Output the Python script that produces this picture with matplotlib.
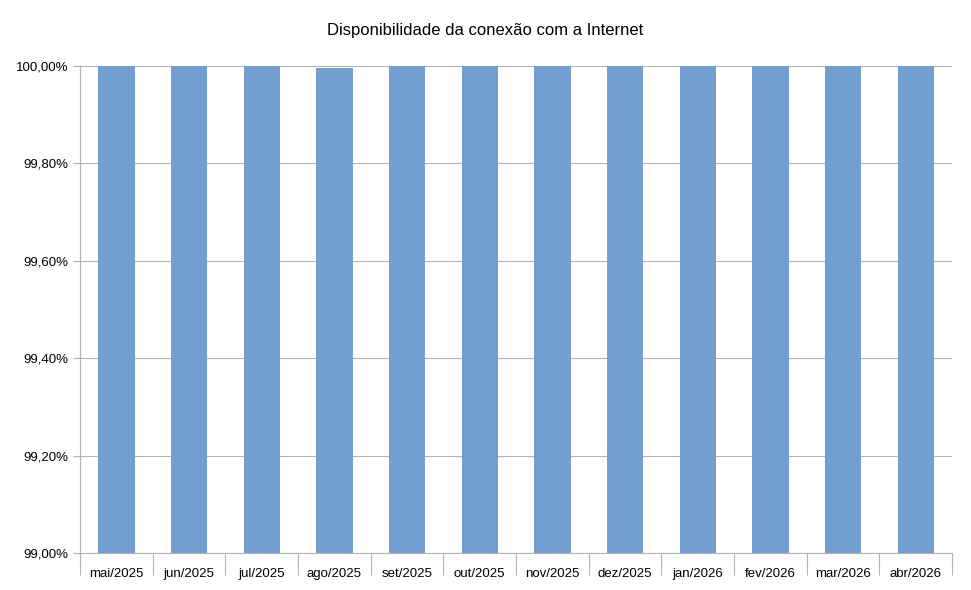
import matplotlib.pyplot as plt
import numpy as np
from matplotlib.ticker import FuncFormatter, FixedLocator

plt.rcParams['font.family'] = ['Liberation Sans', 'DejaVu Sans']

# Monthly availability (%)
months = ['mai/2025', 'jun/2025', 'jul/2025', 'ago/2025', 'set/2025', 'out/2025',
          'nov/2025', 'dez/2025', 'jan/2026', 'fev/2026', 'mar/2026', 'abr/2026']
availability = [100.0, 100.0, 99.999, 99.996, 100.0, 99.999,
                100.0, 100.0, 100.0, 100.0, 100.0, 100.0]
y_ticks = [99.0, 99.2, 99.4, 99.6, 99.8, 100.0]

fig = plt.figure(figsize=(9.71, 5.9), dpi=100)
ax = fig.add_axes([80 / 971, 1 - 553 / 590, 872 / 971, 487 / 590])

x = np.arange(len(months))
ax.bar(x, availability, width=0.5, color='#729fcf', zorder=2)

ax.set_ylim(99.0, 100.0)
ax.set_xlim(-0.5, len(months) - 0.5)
ax.set_yticks(y_ticks)
ax.yaxis.set_major_formatter(FuncFormatter(lambda v, p: f'{v:.2f}'.replace('.', ',') + '%'))
ax.grid(axis='y', color='#b3b3b3', linewidth=0.8, zorder=0)

# category labels centred, tick marks between categories
ax.xaxis.set_major_locator(FixedLocator(np.arange(-0.5, len(months), 1.0)))
ax.xaxis.set_minor_locator(FixedLocator(x))
ax.set_xticklabels([])
ax.set_xticklabels(months, minor=True)
ax.tick_params(axis='x', which='major', length=16, color='#b3b3b3', width=0.8)
ax.tick_params(axis='x', which='minor', length=0, pad=10.5, labelsize=9.5)
ax.tick_params(axis='y', length=5, color='#b3b3b3', width=0.8, labelsize=9.5)

for side in ['top', 'right']:
    ax.spines[side].set_visible(False)
for side in ['left', 'bottom']:
    ax.spines[side].set_color('#b3b3b3')
    ax.spines[side].set_linewidth(0.8)

fig.text(485 / 971, 1 - 31 / 590, 'Disponibilidade da conexão com a Internet',
         ha='center', va='center', fontsize=12)

fig.savefig('out.png', dpi=100)
